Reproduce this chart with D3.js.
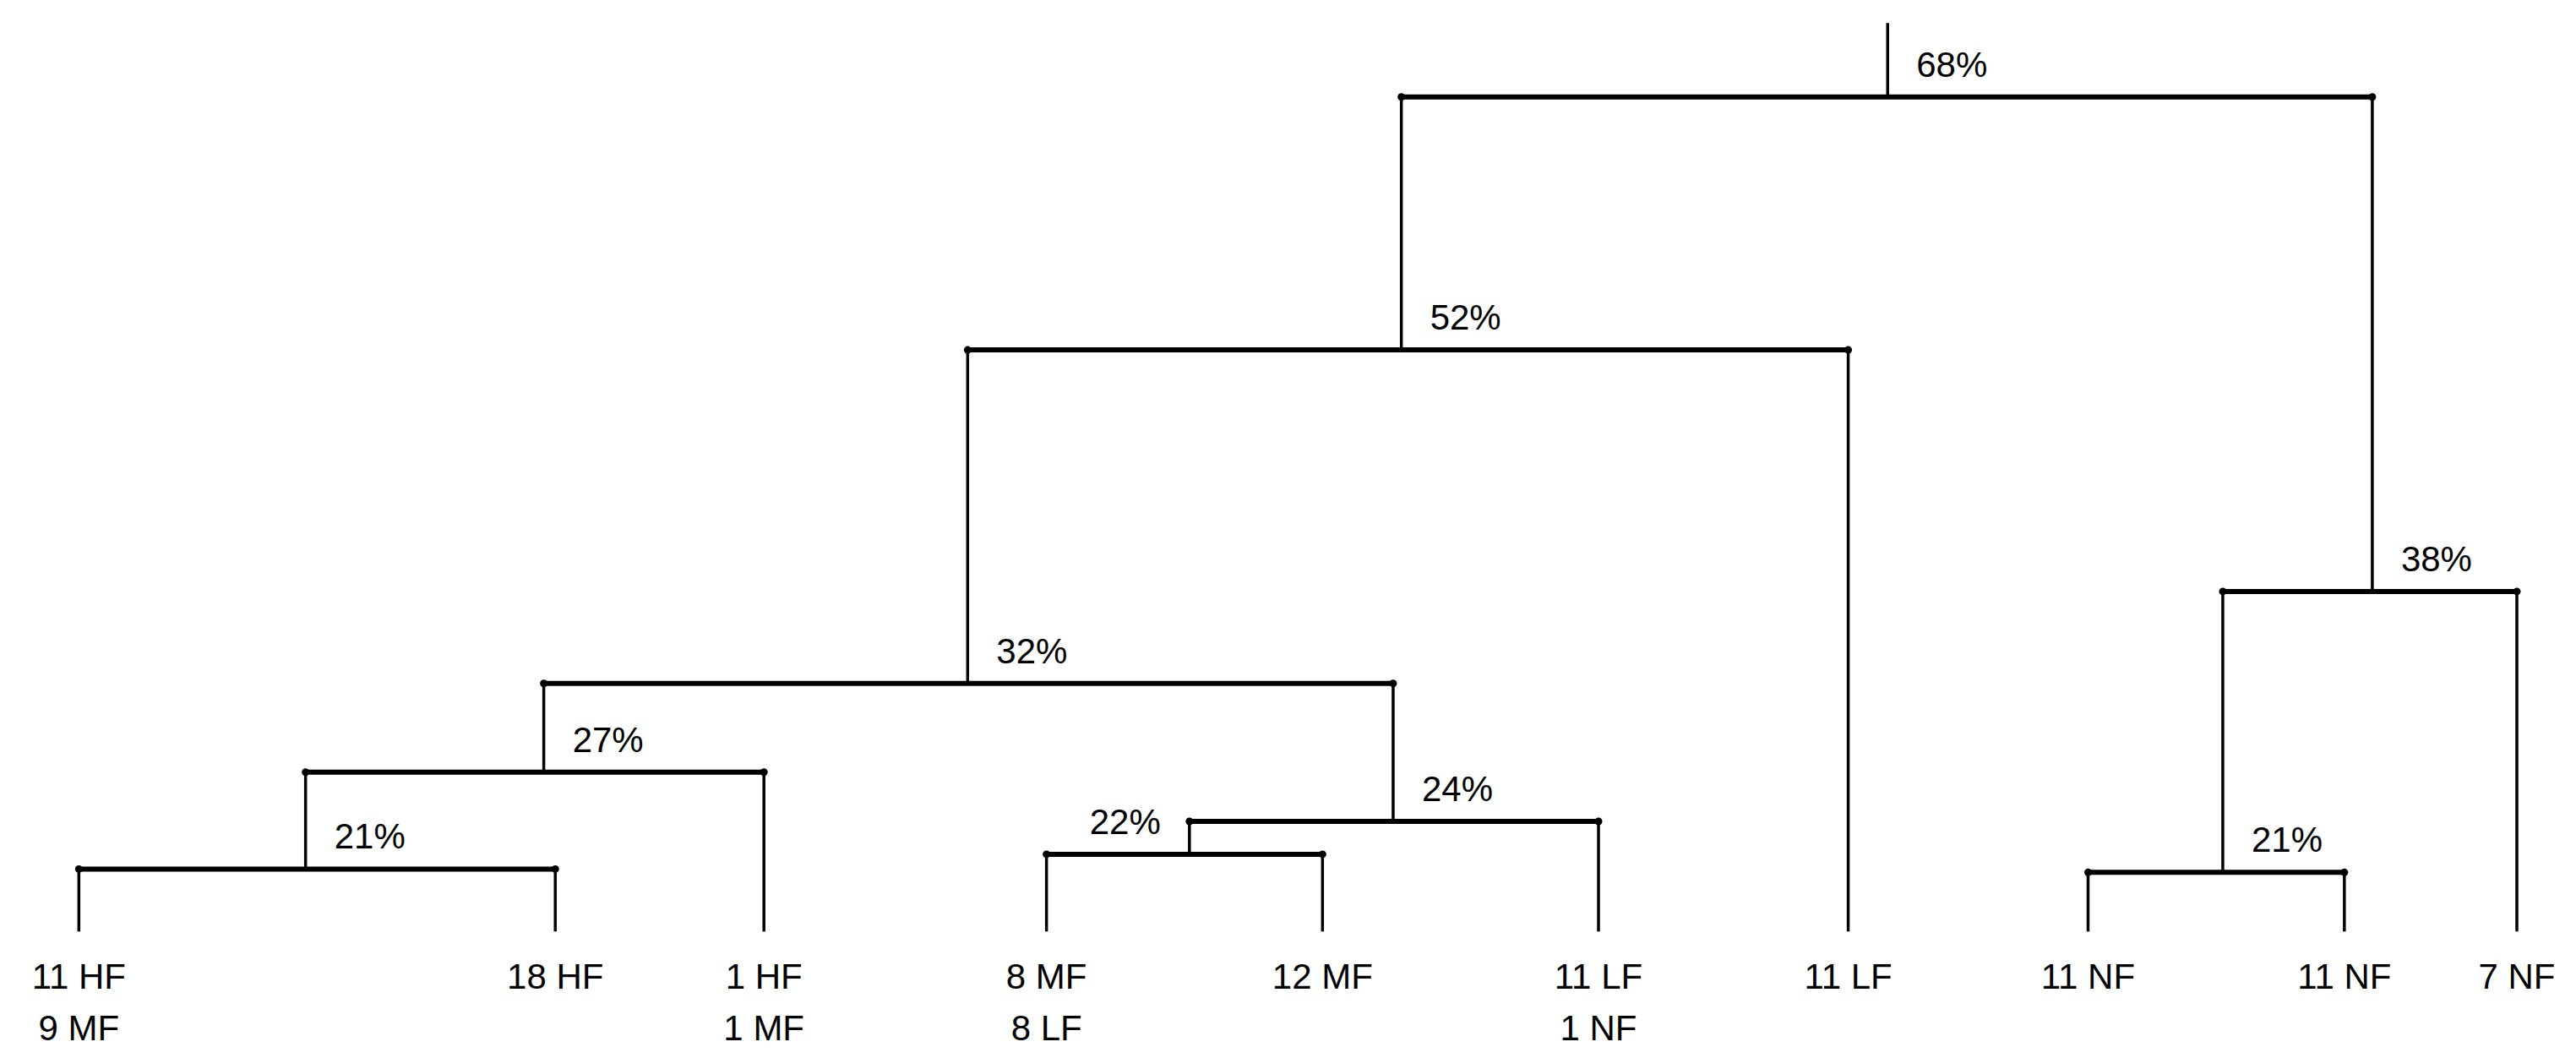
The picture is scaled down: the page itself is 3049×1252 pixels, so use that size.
<!DOCTYPE html>
<html><head><meta charset="utf-8">
<script src="https://cdn.jsdelivr.net/npm/d3@7"></script>
<style>body{margin:0;background:#fff}</style>
</head><body>
<svg id="canvas" width="3049" height="1252"></svg>
<script>
// leaves, left to right (x in chart units)
let leafNames = ['A','B','C','D','E','F','G','H','I','J']
let leafX = [48, 338, 465, 637, 805, 973, 1125, 1271, 1427, 1532]
let leafLine1 = ['11 HF','18 HF','1 HF','8 MF','12 MF','11 LF','11 LF','11 NF','11 NF','7 NF']
let leafLine2 = ['9 MF','','1 MF','8 LF','','1 NF','','','','']

// internal merges: id, left child, right child, merge level, similarity label
let nodeIds    = ['n21a','n27','n22','n24','n32','n52','n21b','n38','n68']
let nodeLeft   = ['A','n21a','D','n22','n27','n32','H','n21b','n52']
let nodeRight  = ['B','C','E','F','n24','G','I','J','n38']
let nodeLevel  = [529, 470, 520, 500, 416, 213, 531, 360, 59]
let nodeLabel  = ['21%','27%','22%','24%','32%','52%','21%','38%','68%']
let labelSide  = ['r','r','l','r','r','r','r','r','r']

let leafBottom = 567
let rootTop = 14

let x = d3.scaleLinear().domain([0, 1568]).range([0, 3049])
let y = d3.scaleLinear().domain([0, 644]).range([0, 1252])

let svg = d3.select('#canvas')

let pos = {}
leafNames.forEach((n, i) => { pos[n] = {x: leafX[i], y: leafBottom} })
nodeIds.forEach((id, i) => {
    let l = pos[nodeLeft[i]], r = pos[nodeRight[i]]
    // parent sits above the midpoint of its children
    pos[id] = {x: (l.x + r.x) / 2, y: nodeLevel[i], l: l, r: r}
})
// root stub and the 52% join sit where the picture has them
pos['n68'].x = 1149
pos['n52'].x = 853
pos['n32'].x = 589
pos['n27'].x = 331
pos['n24'].x = 848
pos['n21a'].x = 186
pos['n22'].x = 724
pos['n38'].x = 1444
pos['n21b'].x = 1353

let g = svg.append('g')

nodeIds.forEach((id, i) => {
    let p = pos[id]
    let l = pos[nodeLeft[i]], r = pos[nodeRight[i]]
    // horizontal bar
    g.append('line')
     .attr('x1', x(l.x)).attr('x2', x(r.x))
     .attr('y1', y(p.y)).attr('y2', y(p.y))
     .attr('stroke', '#000').attr('stroke-width', 6)
    // drops to children
    ;[l, r].forEach(c => {
        g.append('line')
         .attr('x1', x(c.x)).attr('x2', x(c.x))
         .attr('y1', y(p.y)).attr('y2', y(c.y))
         .attr('stroke', '#000').attr('stroke-width', 3.5)
        g.append('circle').attr('cx', x(c.x)).attr('cy', y(p.y)).attr('r', 4.5).attr('fill', '#000')
    })
    // label
    g.append('text')
     .attr('x', labelSide[i] === 'r' ? x(p.x) + 34 : x(p.x) - 34)
     .attr('y', y(p.y) - 24)
     .attr('text-anchor', labelSide[i] === 'r' ? 'start' : 'end')
     .attr('font-family', 'Liberation Sans, Arial, sans-serif')
     .attr('font-size', 42)
     .text(nodeLabel[i])
})

// root stub
g.append('line')
 .attr('x1', x(pos['n68'].x)).attr('x2', x(pos['n68'].x))
 .attr('y1', y(rootTop)).attr('y2', y(pos['n68'].y))
 .attr('stroke', '#000').attr('stroke-width', 3.5)

// leaf labels
leafNames.forEach((n, i) => {
    let t = g.append('text')
     .attr('x', x(leafX[i]))
     .attr('y', y(602))
     .attr('text-anchor', 'middle')
     .attr('font-family', 'Liberation Sans, Arial, sans-serif')
     .attr('font-size', 42)
    t.append('tspan').attr('x', x(leafX[i])).text(leafLine1[i])
    if (leafLine2[i]) {
        t.append('tspan').attr('x', x(leafX[i])).attr('dy', y(31)).text(leafLine2[i])
    }
})
</script>
</body></html>
